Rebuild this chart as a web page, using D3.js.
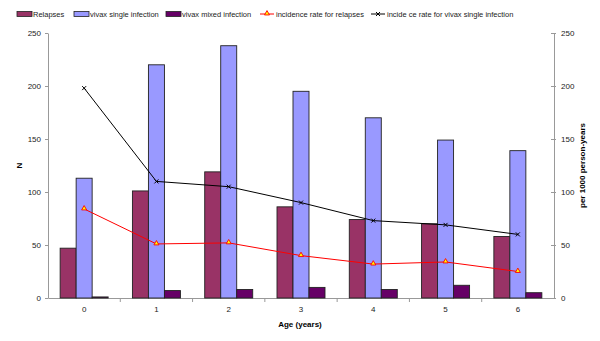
<!DOCTYPE html>
<html>
<head>
<meta charset="utf-8">
<script src="https://cdn.jsdelivr.net/npm/d3@7"></script>
<style>
  body { margin: 0; background: #fff; }
  text { font-family: "Liberation Sans", Arial, sans-serif; }
</style>
</head>
<body>
<div id="chart"></div>
<script>
// chart values
var ages = ["0", "1", "2", "3", "4", "5", "6"];
var relapses = [47, 101, 119, 86, 74, 70, 58];
var vivaxSingle = [113, 220, 238, 195, 170, 149, 139];
var vivaxMixed = [1, 7, 8, 10, 8, 12, 5];
var rateRelapses = [84, 51, 52, 40, 32, 34, 25];
var rateVivax = [198, 110, 105, 90, 73, 69, 60];
var yTicks = [0, 50, 100, 150, 200, 250];

var width = 600, height = 341;
var margin = { top: 33, right: 46, bottom: 43, left: 48 };

const barSeries = [
    { label: "Relapses", color: "#993366", values: relapses },
    { label: "vivax single infection", color: "#9999FF", values: vivaxSingle },
    { label: "vivax mixed infection", color: "#660066", values: vivaxMixed }
];

const lineSeries = [
    { label: "incidence rate for relapses", color: "#FF0000", values: rateRelapses, marker: "triangle" },
    { label: "incide ce rate for vivax single infection", color: "#000000", values: rateVivax, marker: "cross" }
];

const svg = d3.select("#chart")
    .append("svg")
    .attr("width", width)
    .attr("height", height);

const plotW = width - margin.left - margin.right;
const plotH = height - margin.top - margin.bottom;

const g = svg.append("g")
    .attr("transform", `translate(${margin.left}, ${margin.top})`);

const x0 = d3.scaleBand()
    .domain(ages)
    .range([0, plotW])
    .paddingInner(0.336)
    .paddingOuter(0.168);

const x1 = d3.scaleBand()
    .domain(barSeries.map(d => d.label))
    .range([0, x0.bandwidth()]);

const y = d3.scaleLinear().domain([0, 250]).range([plotH, 0]);
const yR = d3.scaleLinear().domain([0, 250]).range([plotH, 0]);

// left axis
const yAxis = g.append("g")
    .call(d3.axisLeft(y).tickValues(yTicks).tickSize(3).tickSizeOuter(0).tickPadding(4));

// right axis
const yAxisR = g.append("g")
    .attr("transform", `translate(${plotW}, 0)`)
    .call(d3.axisRight(yR).tickValues(yTicks).tickSize(0).tickSizeOuter(0).tickPadding(7));
yAxisR.selectAll(".tick line").attr("x1", -3).attr("x2", 2);

// bottom axis: labels at category centres, ticks between categories
const xAxis = g.append("g")
    .attr("transform", `translate(0, ${plotH})`)
    .call(d3.axisBottom(x0).tickSize(0).tickSizeOuter(0).tickPadding(8));

g.selectAll(".sep")
    .data(ages.slice(0, -1))
    .join("line")
    .attr("class", "sep")
    .attr("x1", d => x0(d) + x0.bandwidth() / 2 + x0.step() / 2)
    .attr("x2", d => x0(d) + x0.bandwidth() / 2 + x0.step() / 2)
    .attr("y1", plotH)
    .attr("y2", plotH + 4)
    .attr("stroke", "#999");

[yAxis, yAxisR, xAxis].forEach(a => {
    a.selectAll(".domain").attr("stroke", "#999");
    a.selectAll(".tick line").attr("stroke", "#999");
    a.selectAll("text").attr("font-size", "8px").attr("fill", "#222")
        .attr("font-family", "'Liberation Sans', Arial, sans-serif");
});

// bars
barSeries.forEach(s => {
    g.selectAll(null)
        .data(ages)
        .join("rect")
        .attr("x", (d, i) => x0(d) + x1(s.label))
        .attr("y", (d, i) => y(s.values[i]))
        .attr("width", x1.bandwidth())
        .attr("height", (d, i) => plotH - y(s.values[i]))
        .attr("fill", s.color)
        .attr("stroke", "#222")
        .attr("stroke-width", 0.9);
});

// lines
const cx = d => x0(d) + x0.bandwidth() / 2;

function drawMarker(sel, type, color, px, py) {
    if (type === "triangle") {
        sel.append("path")
            .attr("d", d3.symbol(d3.symbolTriangle, 11)())
            .attr("transform", `translate(${px}, ${py - 0.5})`)
            .attr("fill", "#FFFF00")
            .attr("stroke", color)
            .attr("stroke-width", 0.9);
    } else {
        sel.append("path")
            .attr("d", "M-2,-2L2,2M-2,2L2,-2")
            .attr("transform", `translate(${px}, ${py})`)
            .attr("stroke", color)
            .attr("stroke-width", 1);
    }
}

lineSeries.forEach(s => {
    const line = d3.line()
        .x((d, i) => cx(ages[i]))
        .y(d => yR(d));
    g.append("path")
        .datum(s.values)
        .attr("d", line)
        .attr("fill", "none")
        .attr("stroke", s.color)
        .attr("stroke-width", 1);
    s.values.forEach((v, i) => drawMarker(g, s.marker, s.color, cx(ages[i]), yR(v)));
});

// axis titles
svg.append("text")
    .attr("transform", `translate(22, ${margin.top + plotH / 2}) rotate(-90)`)
    .attr("text-anchor", "middle")
    .attr("font-size", "8px")
    .attr("font-weight", "bold")
    .text("N");

svg.append("text")
    .attr("transform", `translate(585, ${margin.top + plotH / 2}) rotate(-90)`)
    .attr("text-anchor", "middle")
    .attr("font-size", "8px")
    .attr("font-weight", "bold")
    .text("per 1000 person-years");

svg.append("text")
    .attr("x", 300)
    .attr("y", 327)
    .attr("text-anchor", "middle")
    .attr("font-size", "8px")
    .attr("font-weight", "bold")
    .text("Age (years)");

// legend
const legendY = 14;
const legendX = [17, 74, 166, 260, 371];

barSeries.forEach((s, i) => {
    svg.append("rect")
        .attr("x", legendX[i])
        .attr("y", legendY - 2.5)
        .attr("width", 15)
        .attr("height", 5)
        .attr("fill", s.color)
        .attr("stroke", "#222")
        .attr("stroke-width", 0.8);
    svg.append("text")
        .attr("x", legendX[i] + 16)
        .attr("y", legendY)
        .attr("dominant-baseline", "central")
        .attr("font-size", "7.5px")
        .attr("fill", "#222")
        .text(s.label);
});

lineSeries.forEach((s, j) => {
    const lx = legendX[3 + j];
    svg.append("line")
        .attr("x1", lx).attr("x2", lx + 14)
        .attr("y1", legendY).attr("y2", legendY)
        .attr("stroke", s.color)
        .attr("stroke-width", 1);
    drawMarker(svg, s.marker, s.color, lx + 7, legendY);
    svg.append("text")
        .attr("x", lx + 16)
        .attr("y", legendY)
        .attr("dominant-baseline", "central")
        .attr("font-size", "7.5px")
        .attr("fill", "#222")
        .text(s.label);
});
</script>
</body>
</html>
